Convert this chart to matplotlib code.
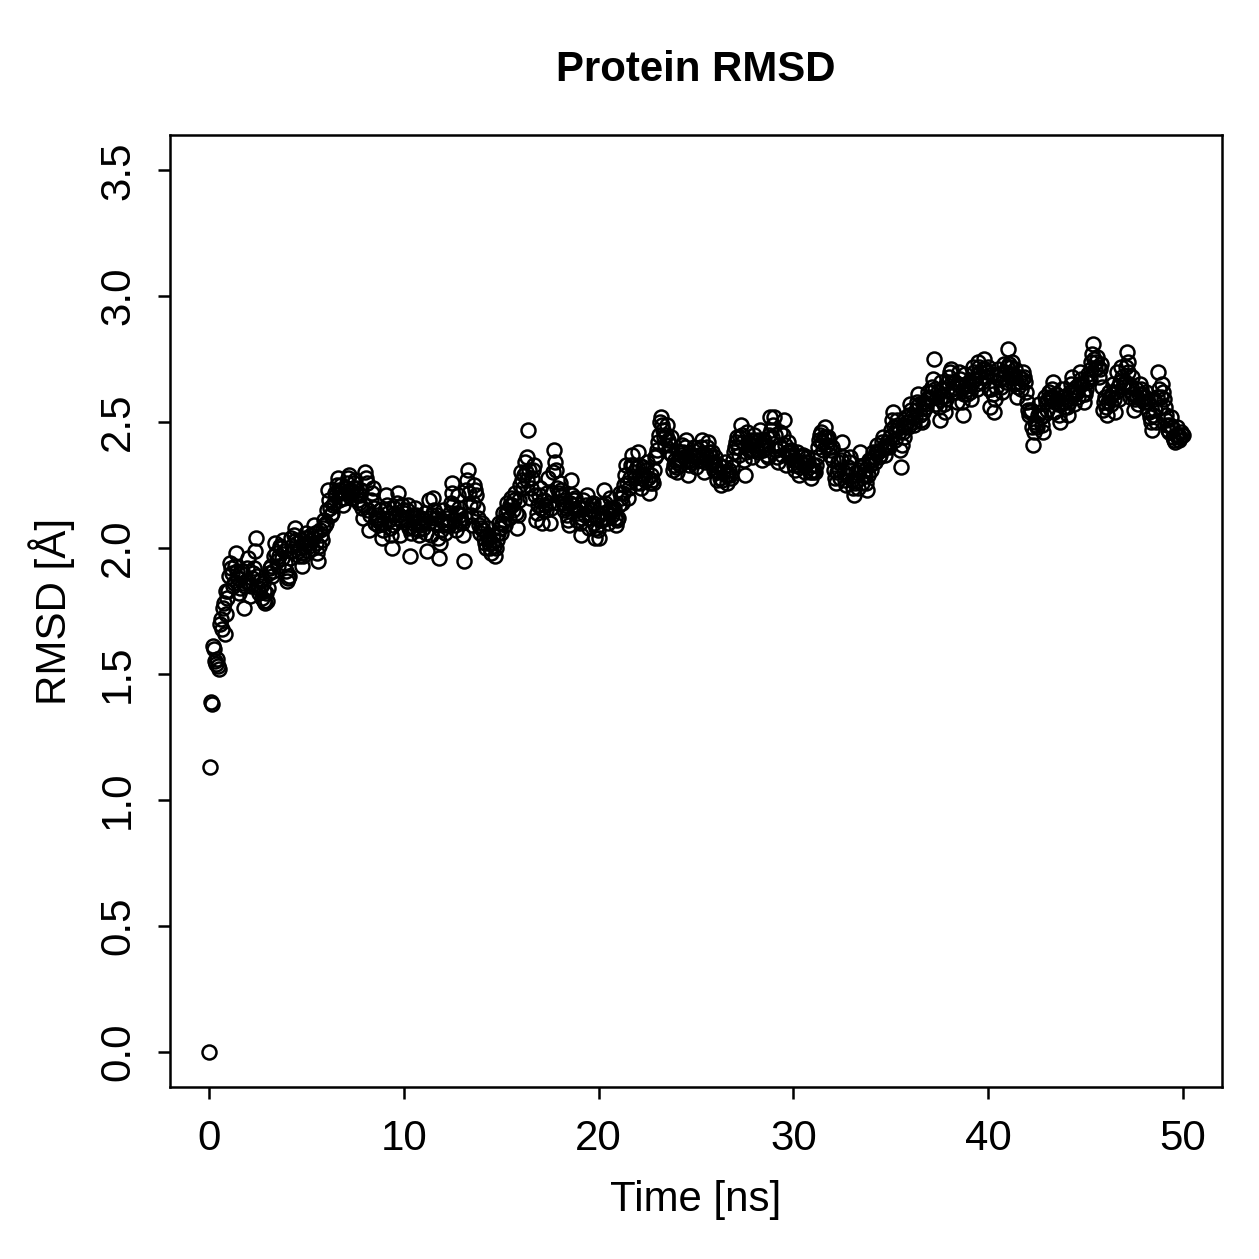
import numpy as np
import matplotlib
matplotlib.use("Agg")
import matplotlib.pyplot as plt

plt.rcParams['font.family'] = ['Liberation Sans', 'DejaVu Sans']

# RMSD values, one row per ns (0.05 ns steps)
rmsd = [
    0.00, 1.13, 1.39, 1.38, 1.61, 1.60, 1.55, 1.54, 1.56, 1.53, 1.52, 1.70, 1.72, 1.68, 1.76, 1.78, 1.66, 1.74, 1.83, 1.80,
    1.83, 1.89, 1.94, 1.92, 1.90, 1.85, 1.86, 1.93, 1.98, 1.91, 1.88, 1.82, 1.84, 1.90, 1.91, 1.86, 1.76, 1.85, 1.87, 1.92,
    1.96, 1.86, 1.81, 1.85, 1.88, 1.90, 1.92, 1.99, 2.04, 1.89, 1.84, 1.82, 1.87, 1.85, 1.80, 1.86, 1.83, 1.79, 1.78, 1.82,
    1.79, 1.84, 1.90, 1.92, 1.93, 1.89, 1.91, 1.97, 2.02, 1.98, 1.95, 1.93, 1.97, 2.01, 2.00, 1.96, 2.03, 1.99, 1.94, 1.91,
    1.87, 1.88, 1.89, 1.96, 2.04, 2.01, 1.99, 2.05, 2.08, 2.03, 2.02, 1.99, 1.97, 2.00, 2.03, 1.98, 1.93, 1.97, 2.01, 2.04,
    2.06, 2.02, 1.99, 2.01, 2.03, 2.05, 2.00, 2.04, 2.09, 2.06, 2.02, 1.98, 1.95, 2.01, 2.07, 2.05, 2.03, 2.08, 2.11, 2.09,
    2.10, 2.15, 2.23, 2.19, 2.16, 2.13, 2.14, 2.17, 2.18, 2.22, 2.21, 2.25, 2.28, 2.23, 2.19, 2.22, 2.25, 2.20, 2.17, 2.20,
    2.22, 2.24, 2.26, 2.28, 2.29, 2.23, 2.20, 2.22, 2.24, 2.26, 2.27, 2.24, 2.21, 2.19, 2.18, 2.21, 2.23, 2.16, 2.12, 2.17,
    2.30, 2.28, 2.26, 2.15, 2.07, 2.13, 2.19, 2.22, 2.24, 2.16, 2.10, 2.12, 2.13, 2.11, 2.09, 2.12, 2.15, 2.10, 2.04, 2.07,
    2.10, 2.15, 2.21, 2.17, 2.14, 2.11, 2.08, 2.05, 2.00, 2.09, 2.16, 2.14, 2.12, 2.18, 2.22, 2.13, 2.05, 2.11, 2.17, 2.15,
    2.14, 2.12, 2.11, 2.15, 2.17, 2.08, 1.97, 2.06, 2.13, 2.10, 2.08, 2.12, 2.16, 2.13, 2.10, 2.07, 2.05, 2.09, 2.12, 2.10,
    2.08, 2.11, 2.14, 2.06, 1.99, 2.10, 2.19, 2.12, 2.05, 2.13, 2.20, 2.15, 2.10, 2.12, 2.13, 2.04, 1.96, 2.02, 2.07, 2.11,
    2.15, 2.10, 2.06, 2.09, 2.12, 2.10, 2.09, 2.14, 2.18, 2.22, 2.26, 2.17, 2.11, 2.09, 2.07, 2.14, 2.21, 2.16, 2.13, 2.11,
    2.10, 2.05, 1.95, 2.12, 2.23, 2.27, 2.31, 2.22, 2.17, 2.13, 2.09, 2.18, 2.25, 2.23, 2.21, 2.16, 2.12, 2.09, 2.06, 2.08,
    2.10, 2.07, 2.04, 2.02, 2.00, 2.05, 2.08, 2.04, 2.02, 2.00, 1.98, 2.02, 2.05, 2.01, 1.97, 2.00, 2.03, 2.06, 2.10, 2.08,
    2.06, 2.10, 2.14, 2.11, 2.09, 2.14, 2.18, 2.15, 2.12, 2.17, 2.20, 2.17, 2.15, 2.19, 2.22, 2.14, 2.08, 2.13, 2.19, 2.25,
    2.30, 2.27, 2.24, 2.29, 2.34, 2.30, 2.27, 2.36, 2.47, 2.31, 2.20, 2.24, 2.28, 2.31, 2.33, 2.21, 2.11, 2.14, 2.17, 2.21,
    2.24, 2.16, 2.10, 2.15, 2.19, 2.17, 2.15, 2.22, 2.28, 2.18, 2.10, 2.16, 2.22, 2.30, 2.39, 2.34, 2.31, 2.24, 2.18, 2.22,
    2.26, 2.23, 2.21, 2.18, 2.15, 2.17, 2.19, 2.16, 2.13, 2.11, 2.09, 2.18, 2.27, 2.21, 2.17, 2.19, 2.20, 2.15, 2.11, 2.14,
    2.16, 2.10, 2.05, 2.12, 2.19, 2.16, 2.13, 2.17, 2.21, 2.14, 2.08, 2.12, 2.15, 2.17, 2.18, 2.10, 2.04, 2.08, 2.12, 2.07,
    2.04, 2.11, 2.17, 2.14, 2.11, 2.17, 2.23, 2.18, 2.14, 2.12, 2.10, 2.15, 2.20, 2.16, 2.13, 2.15, 2.16, 2.12, 2.09, 2.11,
    2.12, 2.17, 2.22, 2.20, 2.18, 2.22, 2.25, 2.29, 2.33, 2.26, 2.20, 2.24, 2.28, 2.33, 2.37, 2.33, 2.30, 2.28, 2.26, 2.32,
    2.38, 2.33, 2.29, 2.26, 2.24, 2.28, 2.32, 2.29, 2.27, 2.31, 2.34, 2.28, 2.22, 2.26, 2.29, 2.27, 2.26, 2.31, 2.36, 2.37,
    2.39, 2.42, 2.45, 2.50, 2.52, 2.49, 2.47, 2.44, 2.41, 2.45, 2.49, 2.43, 2.38, 2.41, 2.44, 2.37, 2.31, 2.33, 2.35, 2.32,
    2.30, 2.34, 2.38, 2.35, 2.33, 2.37, 2.41, 2.38, 2.36, 2.40, 2.43, 2.35, 2.29, 2.33, 2.37, 2.35, 2.34, 2.37, 2.40, 2.36,
    2.32, 2.36, 2.39, 2.37, 2.35, 2.40, 2.43, 2.36, 2.30, 2.34, 2.37, 2.40, 2.42, 2.38, 2.34, 2.36, 2.38, 2.34, 2.31, 2.33,
    2.36, 2.31, 2.27, 2.30, 2.33, 2.28, 2.25, 2.27, 2.30, 2.32, 2.34, 2.29, 2.26, 2.29, 2.31, 2.29, 2.28, 2.32, 2.35, 2.38,
    2.40, 2.42, 2.44, 2.40, 2.37, 2.44, 2.49, 2.45, 2.42, 2.35, 2.29, 2.38, 2.46, 2.42, 2.39, 2.41, 2.43, 2.39, 2.36, 2.41,
    2.45, 2.43, 2.41, 2.39, 2.38, 2.43, 2.47, 2.40, 2.35, 2.39, 2.43, 2.41, 2.40, 2.37, 2.36, 2.45, 2.52, 2.47, 2.44, 2.49,
    2.52, 2.45, 2.39, 2.36, 2.34, 2.41, 2.46, 2.40, 2.37, 2.45, 2.51, 2.41, 2.33, 2.38, 2.42, 2.38, 2.36, 2.38, 2.39, 2.37,
    2.35, 2.33, 2.31, 2.35, 2.38, 2.33, 2.29, 2.32, 2.34, 2.36, 2.37, 2.33, 2.30, 2.34, 2.36, 2.34, 2.32, 2.30, 2.28, 2.30,
    2.33, 2.31, 2.30, 2.33, 2.36, 2.40, 2.43, 2.45, 2.46, 2.42, 2.39, 2.44, 2.48, 2.44, 2.41, 2.43, 2.44, 2.40, 2.37, 2.39,
    2.40, 2.35, 2.31, 2.28, 2.26, 2.30, 2.34, 2.31, 2.28, 2.35, 2.42, 2.36, 2.30, 2.27, 2.25, 2.29, 2.32, 2.34, 2.36, 2.31,
    2.27, 2.24, 2.21, 2.26, 2.30, 2.27, 2.24, 2.31, 2.38, 2.32, 2.26, 2.29, 2.33, 2.31, 2.29, 2.26, 2.23, 2.29, 2.35, 2.33,
    2.31, 2.35, 2.38, 2.36, 2.34, 2.38, 2.41, 2.38, 2.36, 2.37, 2.39, 2.42, 2.44, 2.40, 2.37, 2.40, 2.42, 2.41, 2.40, 2.44,
    2.47, 2.51, 2.54, 2.48, 2.43, 2.47, 2.51, 2.48, 2.46, 2.39, 2.32, 2.41, 2.49, 2.46, 2.44, 2.48, 2.52, 2.50, 2.48, 2.53,
    2.57, 2.55, 2.52, 2.50, 2.49, 2.52, 2.55, 2.58, 2.61, 2.57, 2.53, 2.51, 2.50, 2.54, 2.58, 2.57, 2.56, 2.59, 2.62, 2.60,
    2.59, 2.62, 2.64, 2.67, 2.75, 2.63, 2.57, 2.60, 2.62, 2.56, 2.51, 2.59, 2.66, 2.63, 2.60, 2.57, 2.54, 2.59, 2.63, 2.66,
    2.68, 2.70, 2.71, 2.66, 2.62, 2.64, 2.66, 2.62, 2.58, 2.65, 2.70, 2.67, 2.64, 2.58, 2.53, 2.61, 2.69, 2.65, 2.61, 2.63,
    2.65, 2.62, 2.59, 2.66, 2.72, 2.70, 2.67, 2.65, 2.63, 2.69, 2.74, 2.72, 2.70, 2.68, 2.66, 2.71, 2.75, 2.71, 2.68, 2.70,
    2.72, 2.63, 2.56, 2.63, 2.69, 2.61, 2.54, 2.59, 2.64, 2.68, 2.71, 2.69, 2.67, 2.64, 2.62, 2.68, 2.73, 2.70, 2.66, 2.72,
    2.79, 2.73, 2.69, 2.72, 2.74, 2.69, 2.65, 2.68, 2.71, 2.66, 2.60, 2.64, 2.68, 2.66, 2.63, 2.67, 2.70, 2.68, 2.66, 2.62,
    2.58, 2.55, 2.53, 2.54, 2.55, 2.48, 2.41, 2.46, 2.50, 2.49, 2.48, 2.53, 2.57, 2.54, 2.52, 2.49, 2.46, 2.53, 2.60, 2.58,
    2.55, 2.59, 2.62, 2.60, 2.59, 2.63, 2.66, 2.60, 2.54, 2.58, 2.61, 2.59, 2.57, 2.53, 2.50, 2.57, 2.63, 2.60, 2.56, 2.58,
    2.59, 2.56, 2.53, 2.58, 2.62, 2.65, 2.68, 2.62, 2.57, 2.61, 2.64, 2.62, 2.60, 2.65, 2.70, 2.67, 2.65, 2.61, 2.58, 2.61,
    2.63, 2.66, 2.69, 2.68, 2.67, 2.71, 2.74, 2.77, 2.81, 2.75, 2.71, 2.74, 2.76, 2.72, 2.68, 2.71, 2.73, 2.64, 2.55, 2.58,
    2.60, 2.56, 2.53, 2.58, 2.62, 2.60, 2.57, 2.61, 2.65, 2.59, 2.54, 2.62, 2.70, 2.64, 2.59, 2.66, 2.72, 2.68, 2.64, 2.65,
    2.66, 2.72, 2.78, 2.74, 2.70, 2.65, 2.60, 2.64, 2.68, 2.61, 2.55, 2.59, 2.63, 2.60, 2.57, 2.61, 2.65, 2.63, 2.61, 2.60,
    2.58, 2.60, 2.62, 2.58, 2.55, 2.54, 2.52, 2.50, 2.47, 2.53, 2.59, 2.55, 2.50, 2.60, 2.70, 2.63, 2.56, 2.60, 2.65, 2.62,
    2.59, 2.56, 2.53, 2.51, 2.49, 2.47, 2.46, 2.49, 2.52, 2.48, 2.44, 2.43, 2.42, 2.45, 2.48, 2.45, 2.43, 2.44, 2.46, 2.45,
    2.45,
]
time = np.arange(len(rmsd)) * 0.05

xticks = [0, 10, 20, 30, 40, 50]
yticks = [0.0, 0.5, 1.0, 1.5, 2.0, 2.5, 3.0, 3.5]

W = 1259
fig = plt.figure(figsize=(W / 180, W / 180), dpi=180)
ax = fig.add_axes([170 / W, 1 - 1087 / W, (1222 - 170) / W, (1087 - 135) / W])

ax.plot(time, rmsd, linestyle='none', marker='o', markersize=5.6,
        markerfacecolor='none', markeredgecolor='black', markeredgewidth=1.0)

ax.set_xlim(-2, 52)
ax.set_ylim(-0.14, 3.64)
ax.set_xticks(xticks)
ax.set_xticklabels([str(t) for t in xticks])
ax.set_yticks(yticks)
ax.set_yticklabels(['%.1f' % t for t in yticks], rotation=90, va='center')
ax.tick_params(direction='out', length=4.8, width=1, labelsize=16.8, pad=8)
for s in ax.spines.values():
    s.set_linewidth(1)

fig.text(696 / W, 1 - 70 / W, 'Protein RMSD', ha='center', va='center',
         fontsize=16.8, fontweight='bold')
fig.text(696 / W, 1 - 1200 / W, 'Time [ns]', ha='center', va='center', fontsize=16.8)
fig.text(52 / W, 1 - 611 / W, 'RMSD [Å]', ha='center', va='center',
         fontsize=16.8, rotation=90)

fig.savefig('out.png', dpi=180)
